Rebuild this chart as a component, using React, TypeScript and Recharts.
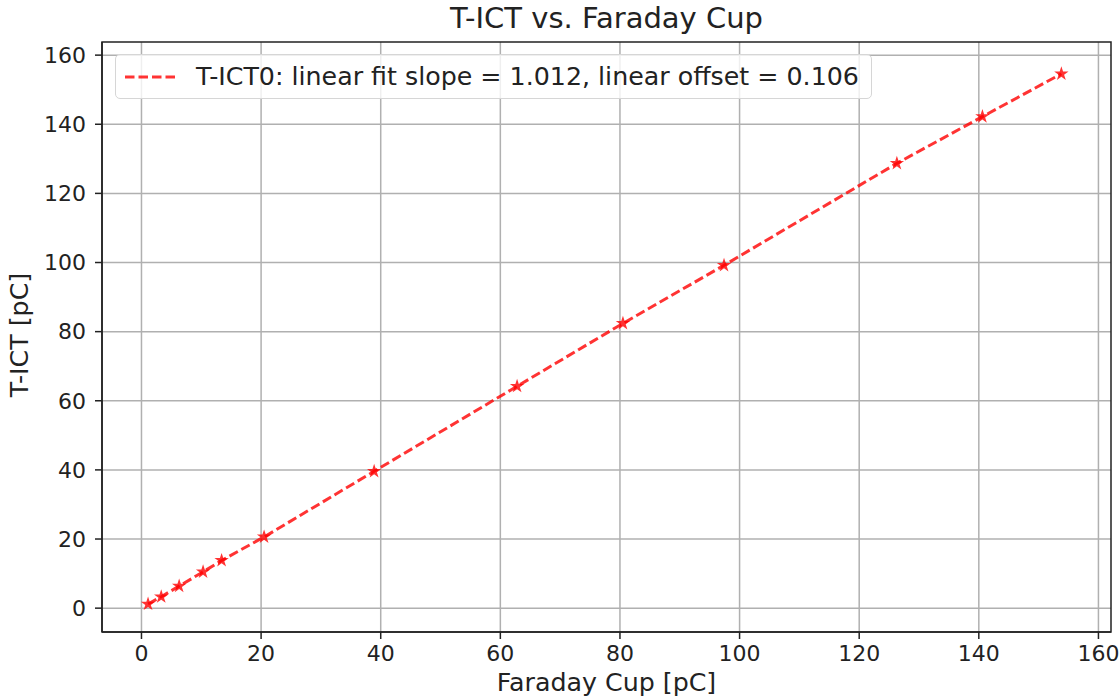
import {
  ScatterChart,
  Scatter,
  XAxis,
  YAxis,
  ZAxis,
  CartesianGrid,
  Legend,
  ReferenceArea,
  Customized,
} from 'recharts';

// Measured charge values (pC)
const faradayCup = [1.1, 3.3, 6.3, 10.3, 13.4, 20.5, 38.9, 62.8, 80.5, 97.4, 126.3, 140.6, 153.8];
const tIct = [1.2, 3.3, 6.4, 10.5, 13.8, 20.6, 39.6, 64.2, 82.4, 99.2, 128.7, 142.2, 154.6];

const xTicks = [0, 20, 40, 60, 80, 100, 120, 140, 160];
const yTicks = [0, 20, 40, 60, 80, 100, 120, 140, 160];

const seriesName = 'T-ICT0: linear fit slope = 1.012, linear offset = 0.106';

const X_DOMAIN: [number, number] = [-6.6, 162.1];
const Y_DOMAIN: [number, number] = [-6.9, 163.8];

const FONT = '"DejaVu Sans", sans-serif';
const RED = '#ff0000';

if (typeof document !== 'undefined') {
  document.body.style.margin = '0';
}

const data = faradayCup.map((x, i) => ({ x, y: tIct[i] }));

function LegendBox() {
  return (
    <div
      style={{
        width: 755,
        height: 43,
        border: '1px solid #d6d6d6',
        borderRadius: 5,
        background: 'rgba(255,255,255,0.8)',
        display: 'flex',
        alignItems: 'center',
        fontFamily: FONT,
        fontSize: 25.3,
        color: '#222',
        boxSizing: 'content-box',
      }}
    >
      <svg width={80} height={20} style={{ flexShrink: 0 }}>
        <line
          x1={9}
          x2={61}
          y1={10}
          y2={10}
          stroke={RED}
          strokeOpacity={0.8}
          strokeWidth={3}
          strokeDasharray="9.5 4"
        />
      </svg>
      <span style={{ whiteSpace: 'nowrap' }}>{seriesName}</span>
    </div>
  );
}

function Labels() {
  return (
    <g fontFamily={FONT} fill="#222">
      <text x={606.5} y={28} textAnchor="middle" fontSize={29}>
        T-ICT vs. Faraday Cup
      </text>
      <text x={606.5} y={691} textAnchor="middle" fontSize={25.3}>
        Faraday Cup [pC]
      </text>
      <text
        x={0}
        y={0}
        transform="translate(28, 335) rotate(-90)"
        textAnchor="middle"
        fontSize={25.3}
      >
        T-ICT [pC]
      </text>
    </g>
  );
}

export default function App() {
  const tickStyle = { fontFamily: FONT, fontSize: 22, fill: '#222' };
  return (
    <div style={{ width: 1120, height: 700, background: '#fff' }}>
      <ScatterChart
        width={1120}
        height={700}
        margin={{ top: 42, right: 9, bottom: 0, left: 0 }}
      >
        <CartesianGrid
          stroke="#b0b0b0"
          strokeWidth={1.5}
          horizontalValues={yTicks}
          verticalValues={xTicks}
        />
        <XAxis
          type="number"
          dataKey="x"
          domain={X_DOMAIN}
          ticks={xTicks}
          allowDataOverflow
          height={68}
          tickSize={7}
          tickMargin={6}
          tick={tickStyle}
          stroke="#222"
          strokeWidth={1.5}
          tickLine={{ stroke: '#222', strokeWidth: 1.5 }}
        />
        <YAxis
          type="number"
          dataKey="y"
          domain={Y_DOMAIN}
          ticks={yTicks}
          allowDataOverflow
          width={102}
          tickSize={7}
          tickMargin={9}
          tick={tickStyle}
          stroke="#222"
          strokeWidth={1.5}
          tickLine={{ stroke: '#222', strokeWidth: 1.5 }}
        />
        <ZAxis range={[64, 64]} />
        <ReferenceArea
          x1={X_DOMAIN[0]}
          x2={X_DOMAIN[1]}
          y1={Y_DOMAIN[0]}
          y2={Y_DOMAIN[1]}
          fill="none"
          stroke="#222"
          strokeWidth={1.5}
          ifOverflow="extendDomain"
        />
        <Scatter
          name={seriesName}
          data={data}
          shape="star"
          fill={RED}
          fillOpacity={0.8}
          line={{
            stroke: RED,
            strokeOpacity: 0.8,
            strokeWidth: 3,
            strokeDasharray: '9.5 4',
          }}
          isAnimationActive={false}
        />
        <Legend
          layout="vertical"
          align="center"
          verticalAlign="middle"
          content={() => <LegendBox />}
          wrapperStyle={{ left: 115, top: 54, width: 'auto', height: 'auto' }}
        />
        <Customized component={() => <Labels />} />
      </ScatterChart>
    </div>
  );
}
